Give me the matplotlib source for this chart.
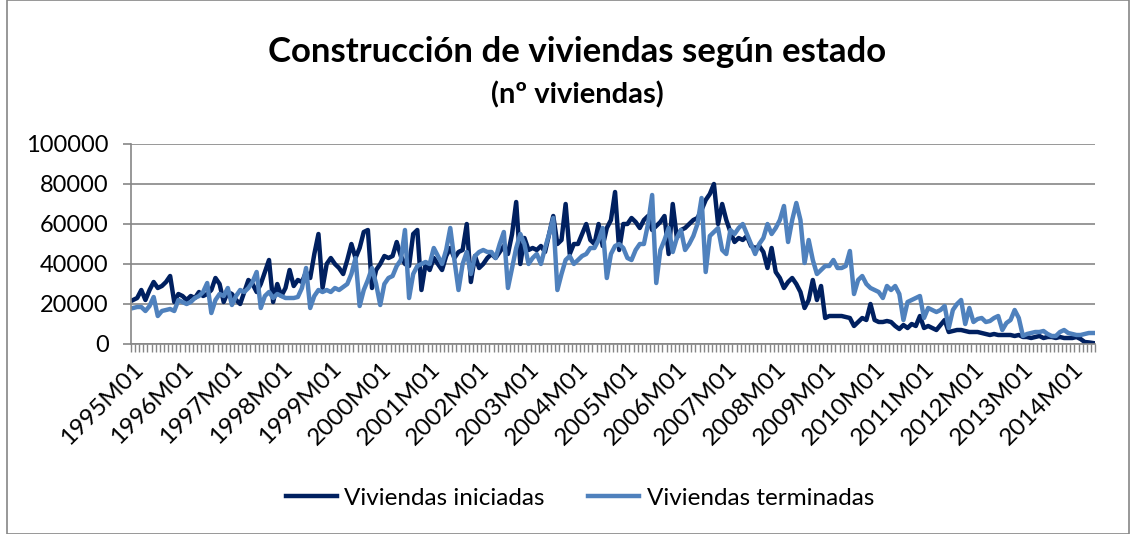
import numpy as np
import matplotlib
matplotlib.use("Agg")
import matplotlib.pyplot as plt
from matplotlib.patches import Rectangle

# datos mensuales 1995M01 - 2014M06
iniciadas = [
    22000, 23000, 27000, 22000, 27000, 31000, 28000, 29000, 31000, 34000, 21000, 25000,  # 1995
    24000, 22000, 24000, 23000, 26000, 24000, 25000, 27000, 33000, 30000, 21000, 26000,  # 1996
    25000, 22000, 20000, 26000, 32000, 30000, 26000, 30000, 36000, 42000, 21000, 30000,  # 1997
    24000, 28000, 37000, 29000, 32000, 31000, 36000, 33000, 45000, 55000, 28000, 40000,  # 1998
    43000, 40000, 38000, 35000, 42000, 50000, 43000, 48000, 56000, 57000, 28000, 37000,  # 1999
    40000, 44000, 43000, 44000, 51000, 44000, 40000, 39000, 55000, 57000, 27000, 40000,  # 2000
    37000, 43000, 40000, 37000, 44000, 48000, 43000, 46000, 47000, 60000, 31000, 44000,  # 2001
    38000, 40000, 43000, 45000, 43000, 46000, 49000, 45000, 55000, 71000, 40000, 53000,  # 2002
    47000, 48000, 47000, 49000, 46000, 55000, 64000, 50000, 52000, 70000, 45000, 50000,  # 2003
    50000, 55000, 60000, 52000, 50000, 60000, 49000, 58000, 62000, 76000, 47000, 60000,  # 2004
    60000, 63000, 61000, 58000, 62000, 64000, 57000, 59000, 61000, 64000, 45000, 70000,  # 2005
    53000, 57000, 58000, 60000, 62000, 63000, 67000, 72000, 75000, 80000, 60000, 70000,  # 2006
    62000, 56000, 51000, 53000, 52000, 54000, 49000, 48000, 49000, 46000, 38000, 48000,  # 2007
    36000, 33000, 28000, 31000, 33000, 30000, 26000, 18000, 22000, 32000, 22000, 29000,  # 2008
    13000, 14000, 14000, 14000, 14000, 13500, 13000, 9000, 11000, 13000, 12000, 20000,   # 2009
    12000, 11000, 11000, 11500, 11000, 9000, 7500, 9500, 8000, 10000, 9000, 14000,       # 2010
    8000, 9000, 8000, 7000, 9500, 12000, 6000, 6500, 7000, 7000, 6500, 6000,             # 2011
    6000, 6000, 5500, 5000, 4500, 5000, 4500, 4500, 4500, 4500, 4000, 4500,              # 2012
    3500, 3500, 3000, 3500, 4000, 3000, 3500, 3500, 3000, 3500, 3000, 3000,              # 2013
    3000, 3500, 2500, 1000, 800, 500,                                                    # 2014
]

terminadas = [
    18000, 18500, 18500, 16500, 19000, 23500, 14000, 16500, 17000, 17500, 16500, 22000,  # 1995
    21000, 20000, 21000, 23000, 24000, 26000, 30500, 15500, 22000, 25000, 24000, 28000,  # 1996
    19500, 24000, 27000, 26000, 28000, 31000, 36000, 18000, 24000, 26000, 23000, 25000,  # 1997
    24000, 23000, 23000, 23000, 23500, 28000, 38000, 18000, 24000, 27000, 26000, 27000,  # 1998
    26000, 28000, 27000, 28500, 30000, 35000, 43000, 19000, 27000, 32000, 38000, 30000,  # 1999
    19500, 30000, 33000, 34000, 39000, 42000, 57000, 23000, 35000, 39000, 40000, 41000,  # 2000
    40000, 48000, 44000, 40000, 47000, 58000, 42000, 27000, 40000, 46000, 35000, 44000,  # 2001
    46000, 47000, 46000, 46000, 43000, 50000, 56000, 28000, 38000, 48000, 55000, 50000,  # 2002
    40000, 43000, 45000, 40000, 48000, 55000, 63000, 27000, 35000, 42000, 44000, 40000,  # 2003
    42000, 44000, 45000, 48000, 48000, 52000, 58000, 33000, 45000, 49000, 50000, 48000,  # 2004
    43000, 42000, 47000, 50000, 50000, 60000, 74500, 30500, 47000, 52000, 58000, 46000,  # 2005
    53000, 57000, 47000, 50000, 54000, 60000, 73000, 36000, 54000, 56000, 58000, 47000,  # 2006
    45000, 57000, 55000, 58000, 60000, 55000, 50000, 45000, 50000, 53000, 60000, 55000,  # 2007
    58000, 62000, 69000, 51000, 62000, 70500, 62000, 40500, 52000, 42000, 35000, 37000,  # 2008
    39000, 39000, 42000, 38000, 38000, 39000, 46500, 25000, 32000, 34000, 30000, 28000,  # 2009
    27000, 26000, 23000, 29000, 27000, 29000, 25000, 12000, 21000, 22000, 23000, 24000,  # 2010
    13000, 18000, 17000, 16000, 17000, 19000, 8000, 17000, 20000, 22000, 10000, 18000,   # 2011
    11000, 12500, 13000, 11000, 11500, 13000, 14000, 7000, 10500, 12000, 17000, 13000,   # 2012
    4000, 5000, 5500, 6000, 6000, 6500, 5000, 4000, 4000, 6000, 7000, 5500,              # 2013
    5000, 4500, 4500, 5000, 5500, 5500,                                                  # 2014
]

periodos = ["%dM%02d" % (1995 + i // 12, i % 12 + 1) for i in range(len(iniciadas))]

col_ini = "#002060"
col_ter = "#4F81BD"
gris = "#868686"

plt.rcParams['font.family'] = ['Lato', 'DejaVu Sans']

fig = plt.figure(figsize=(11.34, 5.34), dpi=100)
ax = fig.add_axes([131 / 1134, 1 - 344 / 534, 964 / 1134, 200 / 534])

x = np.arange(len(periodos))
ax.plot(x, iniciadas, color=col_ini, lw=3.2, label="Viviendas iniciadas", solid_joinstyle="round")
ax.plot(x, terminadas, color=col_ter, lw=3.2, label="Viviendas terminadas", solid_joinstyle="round")

ax.set_xlim(-0.5, len(periodos) - 0.5)
ax.set_ylim(0, 100000)
ax.set_yticks(range(0, 100001, 20000))
ax.tick_params(axis="y", labelsize=17, color=gris, length=6, width=1.2, pad=10)
ax.grid(axis="y", color=gris, lw=1.2)
ax.set_axisbelow(True)

# etiquetas cada 12 meses, marcas entre categorias
ax.set_xticks(x[::12])
ax.set_xticklabels([periodos[i] for i in x[::12]], rotation=45, ha="right",
                   rotation_mode="anchor", fontsize=17.5)
ax.tick_params(axis="x", which="major", length=0, pad=10)
ax.set_xticks(np.arange(-0.5, len(periodos)), minor=True)
ax.tick_params(axis="x", which="minor", length=6, color=gris, width=1)

for s in ["top", "right"]:
    ax.spines[s].set_visible(False)
for s in ["left", "bottom"]:
    ax.spines[s].set_color(gris)
    ax.spines[s].set_linewidth(1.2)

fig.text(577 / 1134, 1 - 52 / 534, "Construcción de viviendas según estado",
         ha="center", va="center", fontsize=25, fontweight="bold")
fig.text(577 / 1134, 1 - 95 / 534, "(nº viviendas)",
         ha="center", va="center", fontsize=21, fontweight="bold")

fig.legend(loc="center", bbox_to_anchor=(580 / 1134, 1 - 498 / 534), ncol=2,
           frameon=False, fontsize=17.5, handlelength=2.1, handletextpad=0.3,
           columnspacing=1.8)

fig.patches.append(Rectangle((7 / 1134, 0), 1122 / 1134, 1, transform=fig.transFigure,
                             fill=False, edgecolor=gris, lw=1.2))

fig.savefig("out.png", dpi=100)
